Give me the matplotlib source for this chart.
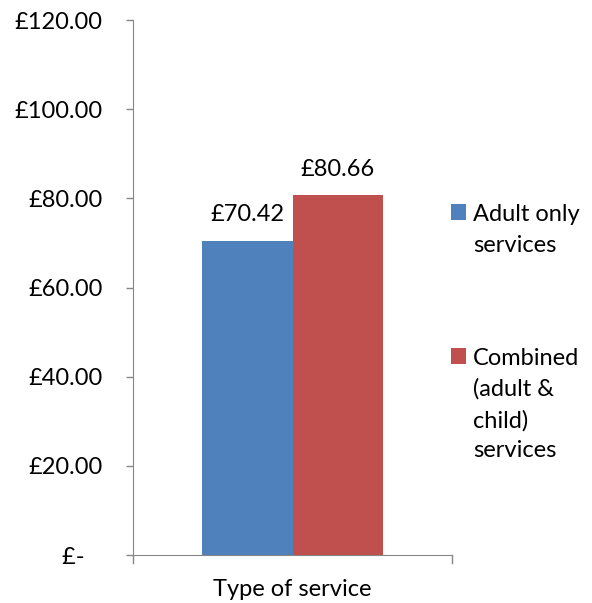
import matplotlib.pyplot as plt
import numpy as np

# average weekly cost by type of service
category = "Type of service"
series = ["Adult only\nservices", "Combined\n(adult &\nchild)\nservices"]
values = [70.42, 80.66]
colors = ["#4F81BD", "#C0504D"]
yticks = [0, 20, 40, 60, 80, 100, 120]

plt.rcParams['font.family'] = ['Lato', 'DejaVu Sans']
fs = 17

fig = plt.figure(figsize=(5.92, 6.03), dpi=100)
ax = fig.add_axes([0.2247, 0.0796, 0.5388, 0.8872])

width = 0.285
offsets = [-width / 2, width / 2]
for name, val, col, off in zip(series, values, colors, offsets):
    ax.bar(off, val, width=width, color=col, label=name)
    ax.annotate("£%.2f" % val, (off, val), xytext=(0, 19), textcoords="offset points",
                ha="center", va="center", fontsize=fs)

ax.set_xlim(-0.5, 0.5)
ax.set_ylim(0, 120)
ax.set_yticks(yticks)
ax.set_yticklabels(["£-   " if v == 0 else "£%.2f" % v for v in yticks], fontsize=fs)
ax.set_xticks([0])
ax.set_xticklabels([category], fontsize=fs)
ax.tick_params(axis="x", length=0, pad=17)
ax.tick_params(axis="y", length=5, width=1, color="#868686", pad=17)

for s in ["top", "right"]:
    ax.spines[s].set_visible(False)
ax.spines["left"].set_color("#868686")
ax.spines["bottom"].set_color("#868686")

# small end ticks on the category axis
for xv in [-0.5, 0.5]:
    ax.plot([xv, xv], [0, -1.8], color="#868686", lw=1, clip_on=False)

leg = ax.legend(loc="upper left", bbox_to_anchor=(0.967, 0.673), frameon=False,
                fontsize=fs, handlelength=0.65, handleheight=0.65,
                handletextpad=0.3, labelspacing=3.9, borderaxespad=0)
for t in leg.get_texts():
    t.set_linespacing(1.55)
# put each marker beside the first line of its label
for col in leg._legend_handle_box.get_children():
    for row in col.get_children():
        row.align = "top"

fig.savefig("out.png", dpi=100)
